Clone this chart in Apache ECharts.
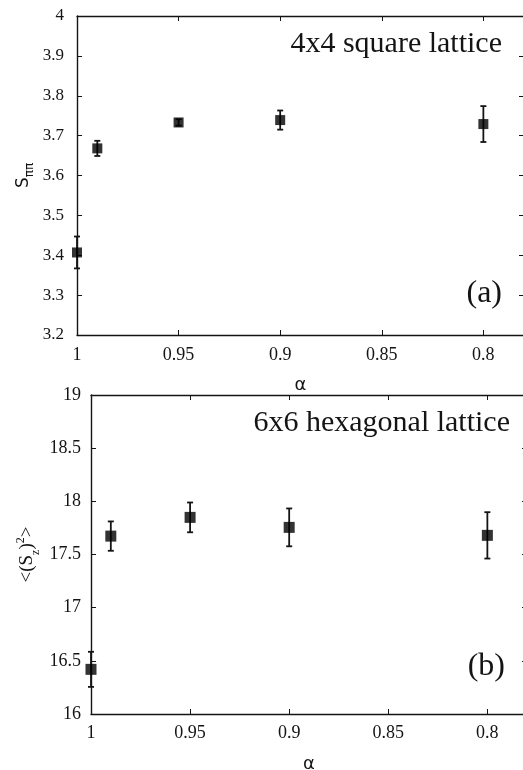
<!DOCTYPE html>
<html>
<head>
<meta charset="utf-8">
<script src="https://cdn.jsdelivr.net/npm/echarts@6/dist/echarts.min.js"></script>
<style>
  html, body { margin: 0; padding: 0; background: #fff; }
  #chart { width: 523px; height: 770px; }
</style>
</head>
<body>
<div id="chart"></div>
<script>
// panel (a): 4x4 square lattice
const alphaA = [1, 0.99, 0.95, 0.9, 0.8]
const snnMean = [3.407, 3.668, 3.733, 3.739, 3.729]
const snnErr = [0.040, 0.019, 0.008, 0.024, 0.045]

// panel (b): 6x6 hexagonal lattice
const alphaB = [1, 0.99, 0.95, 0.9, 0.8]
const sz2Mean = [16.42, 17.673, 17.849, 17.755, 17.68]
const sz2Err = [0.165, 0.138, 0.140, 0.178, 0.218]

const xTicks = [1, 0.95, 0.9, 0.85, 0.8]

const serif = '"Liberation Serif", serif'
const sans = '"DejaVu Sans", sans-serif'
const ink = '#141414'

function xAxisPair(gridIndex, labelMargin, nameGap) {
    const common = {
        type: 'value',
        gridIndex,
        min: 0.78,
        max: 1,
        inverse: true,
        splitLine: { show: false },
        axisLine: { show: true, onZero: false, lineStyle: { color: ink, width: 1.4 } },
        axisTick: { show: true, inside: true, length: 5, customValues: xTicks, lineStyle: { color: ink, width: 1 } }
    }
    return [
        Object.assign({}, common, {
            position: 'bottom',
            name: 'α',
            nameLocation: 'middle',
            nameGap,
            nameMoveOverlap: false,
            nameTextStyle: { fontFamily: sans, fontSize: 18, color: ink },
            axisLabel: {
                show: true, customValues: xTicks, margin: labelMargin,
                fontFamily: serif, fontSize: 18, color: ink
            }
        }),
        Object.assign({}, common, {
            position: 'top',
            axisLabel: { show: false }
        })
    ]
}

function yAxisPair(gridIndex, min, max, interval, labelMargin, fontSize, name, nameGap, rich) {
    const common = {
        type: 'value',
        gridIndex,
        min,
        max,
        interval,
        splitLine: { show: false },
        axisLine: { show: true, onZero: false, lineStyle: { color: ink, width: 1.4 } },
        axisTick: { show: true, inside: true, length: 5, lineStyle: { color: ink, width: 1 } }
    }
    return [
        Object.assign({}, common, {
            position: 'left',
            name,
            nameLocation: 'middle',
            nameGap,
            nameRotate: 90,
            nameMoveOverlap: false,
            nameTextStyle: { color: ink, rich },
            axisLabel: { show: true, margin: labelMargin, fontFamily: serif, fontSize, color: ink }
        }),
        Object.assign({}, common, {
            position: 'right',
            axisLabel: { show: false }
        })
    ]
}

function errorSeries(xIndex, yIndex, xs, means, errs) {
    return {
        type: 'custom',
        xAxisIndex: xIndex,
        yAxisIndex: yIndex,
        clip: false,
        z: 2,
        data: xs.map((x, i) => [x, means[i] - errs[i], means[i] + errs[i]]),
        renderItem(params, api) {
            const lo = api.coord([api.value(0), api.value(1)])
            const hi = api.coord([api.value(0), api.value(2)])
            const cap = 3
            const style = { stroke: ink, lineWidth: 1.8 }
            return {
                type: 'group',
                children: [
                    { type: 'line', shape: { x1: lo[0], y1: lo[1], x2: hi[0], y2: hi[1] }, style },
                    { type: 'line', shape: { x1: lo[0] - cap, y1: lo[1], x2: lo[0] + cap, y2: lo[1] }, style },
                    { type: 'line', shape: { x1: hi[0] - cap, y1: hi[1], x2: hi[0] + cap, y2: hi[1] }, style }
                ]
            }
        }
    }
}

function pointSeries(xIndex, yIndex, xs, means, size) {
    return {
        type: 'scatter',
        xAxisIndex: xIndex,
        yAxisIndex: yIndex,
        clip: false,
        z: 3,
        symbol: 'rect',
        symbolSize: size,
        itemStyle: { color: '#000' },
        data: xs.map((x, i) => [x, means[i]])
    }
}

const chart = echarts.init(document.getElementById('chart'), null, { renderer: 'canvas' })

const option = {
    backgroundColor: '#fff',
    animation: false,
    grid: [
        { left: 77, top: 16, right: -1, height: 319, containLabel: false, outerBoundsMode: 'none' },
        { left: 91, top: 395, right: -4, height: 319, containLabel: false, outerBoundsMode: 'none' }
    ],
    xAxis: [].concat(xAxisPair(0, 11, 41), xAxisPair(1, 10, 41)),
    yAxis: [].concat(
        yAxisPair(0, 3.2, 4, 0.1, 13, 17, '{s|S}{sub|ππ}', 45, {
            s: { fontFamily: sans, fontSize: 17, color: ink, verticalAlign: 'bottom', lineHeight: 22 },
            sub: { fontFamily: sans, fontSize: 12, color: ink, verticalAlign: 'bottom', lineHeight: 12, padding: [0, 0, -4, 0] }
        }),
        yAxisPair(1, 16, 19, 0.5, 10, 18, '{t|<(S}{sub|z}{t|)}{sup|2}{t|>}', 52, {
            t: { fontFamily: serif, fontSize: 19, color: ink, lineHeight: 24 },
            sub: { fontFamily: serif, fontSize: 12, color: ink, verticalAlign: 'bottom', lineHeight: 12, padding: [0, 0, -3, 0] },
            sup: { fontFamily: serif, fontSize: 12, color: ink, verticalAlign: 'top', lineHeight: 12 }
        })
    ),
    series: [
        errorSeries(0, 0, alphaA, snnMean, snnErr),
        pointSeries(0, 0, alphaA, snnMean, 10),
        errorSeries(2, 2, alphaB, sz2Mean, sz2Err),
        pointSeries(2, 2, alphaB, sz2Mean, 11)
    ],
    graphic: [
        { type: 'text', right: 21, top: 29, style: { text: '4x4 square lattice', font: '30px "Liberation Serif"', fill: ink } },
        { type: 'text', right: 21, top: 278, style: { text: '(a)', font: '32px "Liberation Serif"', fill: ink } },
        { type: 'text', right: 13, top: 408, style: { text: '6x6 hexagonal lattice', font: '30px "Liberation Serif"', fill: ink } },
        { type: 'text', right: 18, top: 651, style: { text: '(b)', font: '32px "Liberation Serif"', fill: ink } }
    ]
}

chart.setOption(option)
</script>
</body>
</html>
